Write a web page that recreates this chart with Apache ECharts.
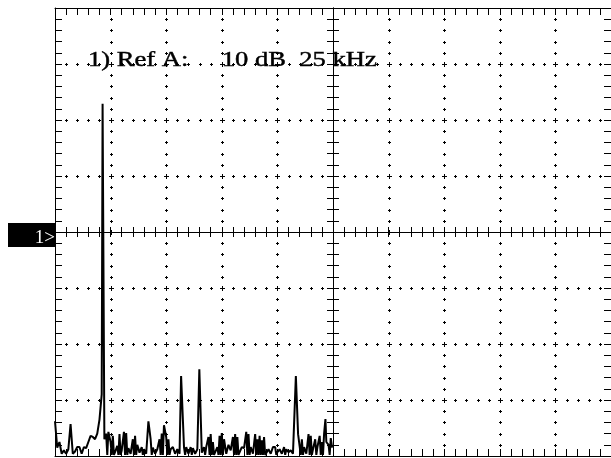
<!DOCTYPE html>
<html><head><meta charset="utf-8">
<script src="https://cdn.jsdelivr.net/npm/echarts@6.0.0/dist/echarts.min.js"></script>
<style>html,body{margin:0;padding:0;background:#fff}#c{width:611px;height:458px}</style>
</head><body><div id="c"></div>
<script>
// ---- data (frequency in kHz, level in dB rel. Ref A) ----
const freqKHz = [0,1,2,3,4,5,6,7,8,9,10,11,12,13,14,15,16,17,18,19,20,21,21.4,21.8,22.2,
  23,24,25,26,27,28,29,30,31,32,33,34,35,36,37,38,39,40,41,42,43,44,45,46,47,48,49,50,51,52,53,54,55,56,
  56.7,57.1,58,59,60,61,62,63,64,64.9,65.3,
  66,67,68,69,70,71,72,73,74,75,76,77,78,79,80,81,82,83,84,85,86,87,88,89,90,91,92,93,94,95,96,97,98,99,
  100,101,102,103,104,105,106,107,108.3,108.7,109.3,110,111,112,113,114,115,116,117,118,119,120,121,121.6,122,123,124,124.6];
const levelDb = [-33.8,-38.5,-37.5,-39.6,-39.0,-39.6,-38.8,-34.3,-39.6,-39.2,-38.4,-38.4,-39.6,-38.4,-38.6,-37.5,-36.4,-36.6,-37.0,-36.0,-33.5,-29.0,22.9,22.9,-37.0,
  -36.0,-35.7,-37.5,-36.4,-39.3,-38.2,-36.1,-39.0,-35.7,-35.9,-38.6,-39.6,-37.0,-36.4,-38.0,-39.4,-38.4,-38.8,-39.6,-33.8,-37.0,-38.5,-39.6,-38.8,-37.0,-36.0,-34.5,-36.6,-37.0,-38.8,-38.4,-39.6,-38.8,-39.6,
  -25.7,-25.9,-38.4,-38.4,-39.6,-38.4,-38.6,-39.6,-38.8,-24.5,-24.7,
  -39.4,-38.4,-38.4,-36.6,-36.1,-37.5,-39.6,-38.4,-36.4,-35.9,-37.0,-39.6,-38.0,-39.0,-36.6,-36.1,-36.6,-39.6,-38.4,-38.6,-35.7,-36.1,-38.4,-39.6,-36.1,-37.0,-36.4,-37.2,-36.6,-39.6,-38.8,-39.6,-38.4,-38.4,
  -39.3,-38.8,-39.6,-38.4,-38.8,-39.3,-39.0,-39.6,-25.7,-25.9,-36.1,-36.1,-37.0,-38.4,-39.6,-36.1,-36.4,-38.8,-37.0,-38.4,-36.4,-37.5,-36.0,-33.4,-37.5,-38.0,-36.8,-38.5];
// narrow dips of the trace down to the noise floor, read between the spikes
const dipKHz = [8.5,12.5,23.5,25.5,26.5,28.5,29.5,31.5,32.5,35.5,36.5,39.5,43.5,47.5,48.5,50.5,51.5,58.5,61.5,
  67.5,69.5,70.5,71.5,73.5,74.5,75.5,80.5,81.5,82.5,86.5,87.5,90.5,91.5,92.5,93.5,94.5,99.5,103.5,
  110.5,111.5,114.5,115.5,117.5,119.5,120.5,123.5];
const dipDb = [-39.8,-39.8,-39.8,-39.8,-39.8,-39.8,-39.8,-39.8,-39.8,-39.8,-39.8,-39.8,-39.8,-39.8,-39.8,-39.8,-39.8,-39.8,-39.8,
  -39.8,-39.8,-39.8,-39.8,-39.8,-39.8,-39.8,-39.8,-39.8,-39.8,-39.8,-39.8,-39.8,-39.8,-39.8,-39.8,-39.8,-39.8,-39.8,
  -39.8,-39.8,-39.8,-39.8,-39.8,-39.8,-39.8,-39.8];
const xTicksKHz = [0,25,50,75,100,125,150,175,200,225,250];
const yTicksDb = [-40,-30,-20,-10,0,10,20,30,40];
const xDivs = [-5,-4,-3,-2,-1,0,1,2,3,4,5];
const yDivs = [-4,-3,-2,-1,0,1,2,3,4];
const annotationText = '1) Ref A:     10 dB  25 kHz';
const markerText = '1>';
const minorPerDiv = 5;

// ---- graticule dots built from the tick arrays ----
function minorPositions(ticks){
  const out = [];
  for (let i = 0; i < ticks.length - 1; i++){
    for (let j = 1; j < minorPerDiv; j++) out.push(ticks[i] + j * (ticks[i+1] - ticks[i]) / minorPerDiv);
  }
  return out;
}
const xMin = xTicksKHz[0], xMax = xTicksKHz[xTicksKHz.length-1];
const yMin = yTicksDb[0], yMax = yTicksDb[yTicksDb.length-1];
const xCenter = xTicksKHz[(xTicksKHz.length-1)/2], yCenter = yTicksDb[(yTicksDb.length-1)/2];
const dottedX = xTicksKHz.filter(v => v > xMin && v < xMax && v !== xCenter);
const dottedY = yTicksDb.filter(v => v > yMin && v < yMax && v !== yCenter);
const minorX = minorPositions(xTicksKHz), minorY = minorPositions(yTicksDb);
const dots = [];   // [x, y, armLength]
dottedX.forEach(x => minorY.forEach(y => dots.push([x, y, 1])));
dottedY.forEach(y => minorX.forEach(x => dots.push([x, y, 1])));
dottedX.forEach(x => dottedY.concat([yCenter]).forEach(y => dots.push([x, y, 2])));
dottedY.forEach(y => dots.push([xCenter, y, 2]));

const trace = freqKHz.map((f, i) => [f, levelDb[i]])
  .concat(dipKHz.map((f, i) => [f, dipDb[i]]))
  .sort((a, b) => a[0] - b[0]);

const black = '#000';
const gridRect = {left: 55, top: 8, right: -8, bottom: 2};
function frameAxis(extra){
  return Object.assign({
    type: 'value', gridIndex: 0,
    axisLine: {show: true, onZero: false, lineStyle: {color: black, width: 1}},
    axisTick: {show: true, inside: true, length: 7, lineStyle: {color: black, width: 1}},
    minorTick: {show: true, splitNumber: minorPerDiv, length: 7, lineStyle: {color: black, width: 1}},
    axisLabel: {show: false}, splitLine: {show: false}, minorSplitLine: {show: false}
  }, extra);
}
function centerAxis(extra, len){
  return Object.assign({
    type: 'value', gridIndex: 1, interval: 1,
    axisLine: {show: true, onZero: true, lineStyle: {color: black, width: 1}},
    axisTick: {show: true, inside: false, length: len, lineStyle: {color: black, width: 1}},
    minorTick: {show: true, splitNumber: minorPerDiv, length: len, lineStyle: {color: black, width: 1}},
    axisLabel: {show: false}, splitLine: {show: false}
  }, extra);
}

function renderDot(params, api){
  const p = api.coord([api.value(0), api.value(1)]);
  const a = api.value(2);
  const cx = Math.round(p[0]) + 0.5, cy = Math.round(p[1]) + 0.5;
  const st = {stroke: black, lineWidth: 1};
  return {type: 'group', children: [
    {type: 'line', shape: {x1: cx - a - 0.5, y1: cy, x2: cx + a + 0.5, y2: cy}, style: st},
    {type: 'line', shape: {x1: cx, y1: cy - a - 0.5, x2: cx, y2: cy + a + 0.5}, style: st}
  ]};
}

const chart = echarts.init(document.getElementById('c'), null, {renderer: 'canvas'});
chart.setOption({
  animation: false,
  backgroundColor: '#fff',
  grid: [Object.assign({}, gridRect), Object.assign({}, gridRect)],
  xAxis: [
    frameAxis({min: xMin, max: xMax, interval: xTicksKHz[1]-xTicksKHz[0], position: 'bottom'}),
    frameAxis({min: xMin, max: xMax, interval: xTicksKHz[1]-xTicksKHz[0], position: 'top'}),
    centerAxis({min: xDivs[0], max: xDivs[xDivs.length-1], position: 'bottom'}, 5),
    centerAxis({min: xDivs[0], max: xDivs[xDivs.length-1], position: 'top'}, 5)
  ],
  yAxis: [
    frameAxis({min: yMin, max: yMax, interval: yTicksDb[1]-yTicksDb[0], position: 'left'}),
    frameAxis({min: yMin, max: yMax, interval: yTicksDb[1]-yTicksDb[0], position: 'right'}),
    centerAxis({min: yDivs[0], max: yDivs[yDivs.length-1], position: 'left'}, 6),
    centerAxis({min: yDivs[0], max: yDivs[yDivs.length-1], position: 'right'}, 6)
  ],
  series: [
    {type: 'custom', xAxisIndex: 0, yAxisIndex: 0, silent: true, z: 1,
     renderItem: renderDot, data: dots},
    {type: 'line', xAxisIndex: 0, yAxisIndex: 0, z: 3, clip: true,
     symbol: 'none', showSymbol: false,
     lineStyle: {color: black, width: 2}, data: trace}
  ],
  graphic: [
    {type: 'rect', z: 100, shape: {x: 8, y: 223, width: 47, height: 24}, style: {fill: black}},
    {type: 'text', z: 101, x: 55, y: 238,
     style: {text: markerText, fill: '#fff', font: '19px "Liberation Serif"', align: 'right', textAlign: 'right', verticalAlign: 'middle', textVerticalAlign: 'middle'}},
    {type: 'text', z: 101, x: 88, y: 61, scaleX: 1.33,
     style: {text: annotationText, fill: black, font: '20px "Liberation Serif"', align: 'left', textAlign: 'left', verticalAlign: 'middle', textVerticalAlign: 'middle', stroke: black, lineWidth: 0.4}}
  ]
});
</script>
</body></html>
